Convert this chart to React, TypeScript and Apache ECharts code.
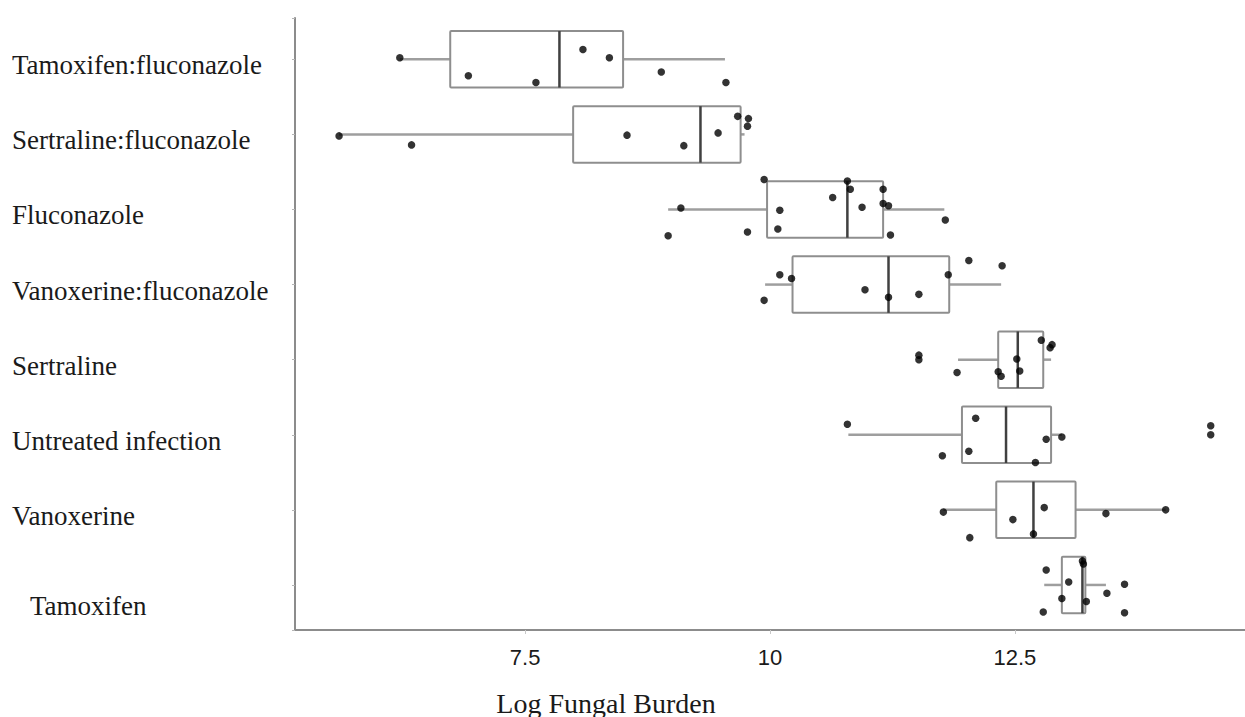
import React, { useEffect, useRef } from "react";
import * as echarts from "echarts";

// Categories from top to bottom
const categories = [
  "Tamoxifen:fluconazole",
  "Sertraline:fluconazole",
  "Fluconazole",
  "Vanoxerine:fluconazole",
  "Sertraline",
  "Untreated infection",
  "Vanoxerine",
  "Tamoxifen",
];

// Box plot statistics (as drawn)
const whiskerLow = [6.22, 5.6, 8.96, 9.95, 11.92, 10.8, 11.77, 12.8];
const q1 = [6.735, 7.99, 9.97, 10.23, 12.33, 11.96, 12.31, 12.98];
const median = [7.85, 9.29, 10.79, 11.21, 12.53, 12.41, 12.69, 13.19];
const q3 = [8.5, 9.7, 11.155, 11.83, 12.79, 12.87, 13.12, 13.22];
const whiskerHigh = [9.54, 9.74, 11.78, 12.36, 12.87, 12.98, 14.04, 13.43];

// Individual observations per category
const pointValues = [
  [6.22, 6.92, 7.61, 8.09, 8.36, 8.89, 9.55],
  [5.6, 6.34, 8.54, 9.12, 9.47, 9.67, 9.78, 9.77],
  [9.09, 8.96, 9.77, 9.94, 10.1, 10.08, 10.64, 10.79, 10.82, 10.94, 11.155, 11.155, 11.21, 11.23, 11.79],
  [10.1, 9.94, 10.22, 10.97, 11.21, 11.52, 11.82, 12.03, 12.37],
  [11.52, 11.52, 11.91, 12.33, 12.36, 12.52, 12.55, 12.77, 12.86, 12.88],
  [10.79, 11.76, 12.03, 12.1, 12.71, 12.82, 12.98, 14.5, 14.5],
  [11.77, 12.04, 12.48, 12.8, 12.69, 13.43, 14.04],
  [12.82, 12.79, 13.05, 12.98, 13.19, 13.2, 13.23, 13.44, 13.62, 13.62],
];

// Vertical jitter of each observation (in category units)
const pointJitter = [
  [-0.02, 0.22, 0.31, -0.13, -0.02, 0.17, 0.31],
  [0.02, 0.14, 0.01, 0.15, -0.02, -0.24, -0.21, -0.11],
  [-0.02, 0.35, 0.3, -0.4, 0.01, 0.26, -0.16, -0.38, -0.27, -0.03, -0.27, -0.08, -0.05, 0.34, 0.14],
  [-0.13, 0.21, -0.08, 0.07, 0.17, 0.13, -0.13, -0.32, -0.25],
  [-0.06, 0.0, 0.17, 0.16, 0.22, -0.01, 0.15, -0.26, -0.16, -0.2],
  [-0.14, 0.28, 0.22, -0.22, 0.37, 0.06, 0.03, -0.12, 0.0],
  [0.03, 0.37, 0.13, -0.03, 0.32, 0.05, 0.0],
  [-0.2, 0.36, -0.04, 0.18, -0.32, -0.28, 0.22, 0.11, -0.01, 0.37],
];

const xTicks = [7.5, 10, 12.5];

const SERIF = "'Liberation Serif', 'Times New Roman', serif";
const SANS = "'Liberation Sans', Arial, sans-serif";

export default function App() {
  const ref = useRef<HTMLDivElement>(null);

  useEffect(() => {
    if (!ref.current) return;
    const chart = echarts.init(ref.current, null, { renderer: "svg" });

    const boxData = categories.map((_, i) => [
      i,
      whiskerLow[i],
      q1[i],
      median[i],
      q3[i],
      whiskerHigh[i],
    ]);

    const scatterData: number[][] = [];
    pointValues.forEach((vals, i) => {
      vals.forEach((v, j) => {
        scatterData.push([v, i + pointJitter[i][j]]);
      });
    });

    const option: any = {
      animation: false,
      backgroundColor: "#ffffff",
      grid: {
        left: 295,
        right: 0,
        top: 18,
        bottom: 87,
        containLabel: false,
        outerBoundsMode: "none",
      },
      xAxis: {
        type: "value",
        min: 5.15,
        max: 14.85,
        minInterval: 2.5,
        maxInterval: 2.5,
        splitLine: { show: false },
        axisLine: {
          show: true,
          onZero: false,
          lineStyle: { color: "#8c8c8c", width: 2 },
        },
        axisTick: {
          show: true,
          length: 4,
          lineStyle: { color: "#c8c8c8", width: 1 },
        },
        axisLabel: {
          show: true,
          margin: 16,
          color: "#1a1a1a",
          fontFamily: SANS,
          fontSize: 22,
          showMinLabel: false,
          showMaxLabel: false,
          formatter: (v: number) => {
            const t = xTicks.find((x) => Math.abs(x - v) < 1e-6);
            return t === undefined ? "" : String(t);
          },
        },
      },
      yAxis: {
        type: "value",
        inverse: true,
        min: -0.55,
        max: 7.6,
        minInterval: 1,
        maxInterval: 1,
        splitLine: { show: false },
        axisLine: {
          show: true,
          onZero: false,
          lineStyle: { color: "#8c8c8c", width: 2 },
        },
        axisTick: {
          show: true,
          length: 3,
          lineStyle: { color: "#b5b5b5", width: 1 },
        },
        axisLabel: {
          show: true,
          align: "left",
          margin: 283,
          color: "#1a1a1a",
          fontFamily: SERIF,
          fontSize: 27,
          formatter: (v: number) => {
            const r = Math.round(v);
            if (Math.abs(r - v) > 1e-6 || r < 0 || r >= categories.length) return "";
            const name = categories[r];
            return r === categories.length - 1 ? `{b|${name}}` : `{a|${name}}`;
          },
          rich: {
            a: {
              fontFamily: SERIF,
              fontSize: 27,
              color: "#1a1a1a",
              padding: [12, 0, 0, 0],
            },
            b: {
              fontFamily: SERIF,
              fontSize: 27,
              color: "#1a1a1a",
              padding: [42, 0, 0, 18],
            },
          },
        },
      },
      series: [
        {
          type: "custom",
          name: "box",
          data: boxData,
          encode: { x: [1, 2, 3, 4, 5], y: 0 },
          z: 2,
          renderItem: (params: any, api: any) => {
            const i = api.value(0);
            const pLo = api.coord([api.value(1), i]);
            const pA = api.coord([api.value(2), i]);
            const pM = api.coord([api.value(3), i]);
            const pB = api.coord([api.value(4), i]);
            const pHi = api.coord([api.value(5), i]);
            const h = api.size([0, 0.752])[1];
            const whiskerStyle = { stroke: "#9e9e9e", lineWidth: 2.5 };
            return {
              type: "group",
              children: [
                {
                  type: "line",
                  shape: { x1: pLo[0], y1: pLo[1], x2: pA[0], y2: pA[1] },
                  style: whiskerStyle,
                },
                {
                  type: "line",
                  shape: { x1: pB[0], y1: pB[1], x2: pHi[0], y2: pHi[1] },
                  style: whiskerStyle,
                },
                {
                  type: "rect",
                  shape: { x: pA[0], y: pA[1] - h / 2, width: pB[0] - pA[0], height: h, r: 1 },
                  style: { fill: "#ffffff", stroke: "#8e8e8e", lineWidth: 2 },
                },
                {
                  type: "line",
                  shape: { x1: pM[0], y1: pM[1] - h / 2, x2: pM[0], y2: pM[1] + h / 2 },
                  style: { stroke: "#404040", lineWidth: 2.5 },
                },
              ],
            };
          },
        },
        {
          type: "scatter",
          name: "points",
          data: scatterData,
          symbol: "circle",
          symbolSize: 7.5,
          z: 5,
          itemStyle: { color: "#000000" },
        },
      ],
      graphic: [
        {
          type: "text",
          x: 606,
          y: 703,
          style: {
            text: "Log Fungal Burden",
            font: `28px ${SERIF}`,
            fill: "#1a1a1a",
            align: "center",
            verticalAlign: "middle",
          },
        },
      ],
    };

    chart.setOption(option);
    return () => chart.dispose();
  }, []);

  return (
    <div
      ref={ref}
      style={{ position: "fixed", left: 0, top: 0, width: 1245, height: 717 }}
    />
  );
}
